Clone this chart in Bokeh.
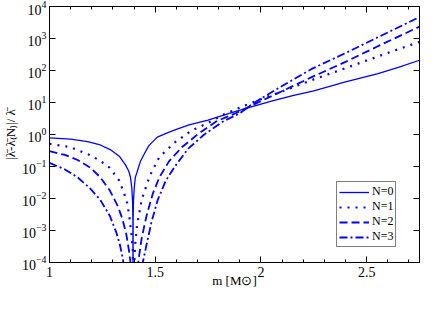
from bokeh.plotting import figure
from bokeh.models import (LinearAxis, LogAxis, FixedTicker, SingleIntervalTicker,
                          LogTickFormatter, NumeralTickFormatter, Legend, LegendItem,
                          CustomJSTickFormatter)
from bokeh.embed import file_html
from bokeh.resources import INLINE

# ---- data (m in solar masses, relative error) ----
m_n0 = [1.00, 1.10, 1.18, 1.24, 1.29, 1.33, 1.36, 1.375, 1.383, 1.389, 1.393, 1.3945,
        1.395, 1.3955, 1.397, 1.401, 1.406, 1.414, 1.429, 1.45, 1.47, 1.51, 1.56, 1.60,
        1.66, 1.75, 1.85, 1.95, 2.05, 2.15, 2.25, 2.40, 2.55, 2.65, 2.75]
err_n0 = [0.79, 0.72, 0.60, 0.47, 0.33, 0.21, 0.11, 0.071, 0.046, 0.022, 0.0079, 0.002,
          1e-6, 0.002, 0.0079, 0.022, 0.046, 0.066, 0.14, 0.26, 0.45, 0.83, 1.15, 1.45,
          2.0, 2.8, 4.6, 7.2, 11.0, 16.5, 23.0, 44.0, 79.0, 126.0, 209.0]

m_n1 = [1.00, 1.095, 1.19, 1.24, 1.285, 1.33, 1.353, 1.368, 1.379, 1.388, 1.394, 1.396,
        1.400, 1.405, 1.414, 1.436, 1.474, 1.52, 1.595, 1.67, 1.75, 1.82, 1.90, 1.97,
        2.09, 2.24, 2.40, 2.55, 2.75]
err_n1 = [0.51, 0.41, 0.23, 0.15, 0.091, 0.036, 0.0145, 0.0071, 0.0023, 7.2e-4, 2.3e-4, 1e-6,
          7e-5, 3.6e-4, 1.45e-3, 9.1e-3, 0.051, 0.20, 0.58, 1.3, 2.3, 4.1, 6.9, 10.7,
          21.0, 50.0, 118.0, 270.0, 790.0]

m_n2 = [1.00, 1.073, 1.133, 1.194, 1.24, 1.285, 1.323, 1.345, 1.364, 1.376, 1.383, 1.395,
        1.41, 1.421, 1.436, 1.459, 1.489, 1.52, 1.565, 1.626, 1.70, 1.79, 1.88, 1.96,
        2.09, 2.24, 2.40, 2.55, 2.75]
err_n2 = [0.30, 0.23, 0.16, 0.091, 0.046, 0.018, 0.0058, 0.0023, 7.2e-4, 2.3e-4, 1.0e-4, 1e-7,
          2.3e-5, 1.2e-4, 5.8e-4, 2.9e-3, 0.0145, 0.046, 0.145, 0.40, 1.0, 2.6, 4.6, 8.3,
          21.0, 62.0, 186.0, 560.0, 2350.0]

m_n3 = [1.00, 1.073, 1.133, 1.194, 1.24, 1.285, 1.315, 1.333, 1.348, 1.395, 1.44, 1.459,
        1.482, 1.512, 1.55, 1.595, 1.656, 1.732, 1.823, 1.90, 1.96, 2.09, 2.24, 2.40,
        2.55, 2.75]
err_n3 = [0.13, 0.081, 0.046, 0.020, 0.0091, 0.0029, 9.1e-4, 3.6e-4, 1.2e-4, 1e-8, 9.1e-5, 3.6e-4,
          1.8e-3, 9.1e-3, 0.036, 0.105, 0.36, 1.0, 2.6, 4.6, 9.1, 30.0, 112.0, 350.0,
          1070.0, 4700.0]

labels = ["N=0", "N=1", "N=2", "N=3"]
y_ticks = [1e-4, 1e-3, 1e-2, 1e-1, 1.0, 10.0, 100.0, 1000.0, 10000.0]
x_label = "m [M⊙]"
y_label = "|λ̄-λ̄₍N₎|/ λ̄"

FONT = "Liberation Serif"
BLUE = "#0000ff"

p = figure(width=420, height=294, x_range=(1.0, 2.75), y_range=(1e-4, 1e4),
           y_axis_type="log", output_backend="svg", toolbar_location=None,
           min_border_left=40, min_border_right=1, min_border_top=6, min_border_bottom=32)
p.grid.visible = False
p.outline_line_color = "black"
p.outline_line_width = 1
p.background_fill_color = "white"
p.border_fill_color = "white"

xticker = SingleIntervalTicker(interval=0.5, num_minor_ticks=5)
yticker = FixedTicker(ticks=y_ticks, minor_ticks=[])

def style(ax):
    ax.axis_line_color = "black"
    ax.major_tick_line_color = "black"
    ax.minor_tick_line_color = "black"
    ax.major_tick_in = 6
    ax.major_tick_out = 0
    ax.minor_tick_in = 3
    ax.minor_tick_out = 0
    ax.major_label_text_font = FONT
    ax.major_label_text_font_size = "14px"
    ax.major_label_text_color = "black"
    ax.axis_label_text_font = FONT
    ax.axis_label_text_font_style = "normal"
    ax.axis_label_text_font_size = "13px"
    ax.axis_label_text_color = "black"

xa = p.xaxis[0]
xa.ticker = xticker
xa.formatter = NumeralTickFormatter(format="0.[0]")
xa.axis_label = x_label
style(xa)
xa.major_label_standoff = 4
xa.axis_label_standoff = -7

ya = p.yaxis[0]
ya.ticker = yticker
ya.formatter = LogTickFormatter()
ya.axis_label = y_label
style(ya)
ya.major_label_standoff = 3
ya.axis_label_standoff = 1

blank = CustomJSTickFormatter(code="return ''")

top = LinearAxis(ticker=xticker, formatter=blank)
style(top)
top.major_label_standoff = 0
p.add_layout(top, "above")

right = LogAxis(ticker=yticker, formatter=blank)
style(right)
right.major_label_standoff = 0
p.add_layout(right, "right")

r0 = p.line(m_n0, err_n0, line_color=BLUE, line_width=1.3)
r1 = p.line(m_n1, err_n1, line_color=BLUE, line_width=2.2, line_dash="2 6")
r2 = p.line(m_n2, err_n2, line_color=BLUE, line_width=1.8, line_dash="8 4")
r3 = p.line(m_n3, err_n3, line_color=BLUE, line_width=1.8, line_dash="8 3 2 3")

legend = Legend(items=[LegendItem(label=labels[0], renderers=[r0]),
                       LegendItem(label=labels[1], renderers=[r1]),
                       LegendItem(label=labels[2], renderers=[r2]),
                       LegendItem(label=labels[3], renderers=[r3])],
                location=(287, 15))
legend.label_text_font = FONT
legend.label_text_font_size = "12px"
legend.label_text_color = "black"
legend.glyph_width = 30
legend.glyph_height = 10
legend.label_height = 10
legend.label_standoff = 3
legend.spacing = 0
legend.padding = 2
legend.margin = 0
legend.border_line_color = "black"
legend.border_line_width = 1
legend.background_fill_alpha = 1
p.add_layout(legend)

open("out.html", "w").write(file_html(p, INLINE))
